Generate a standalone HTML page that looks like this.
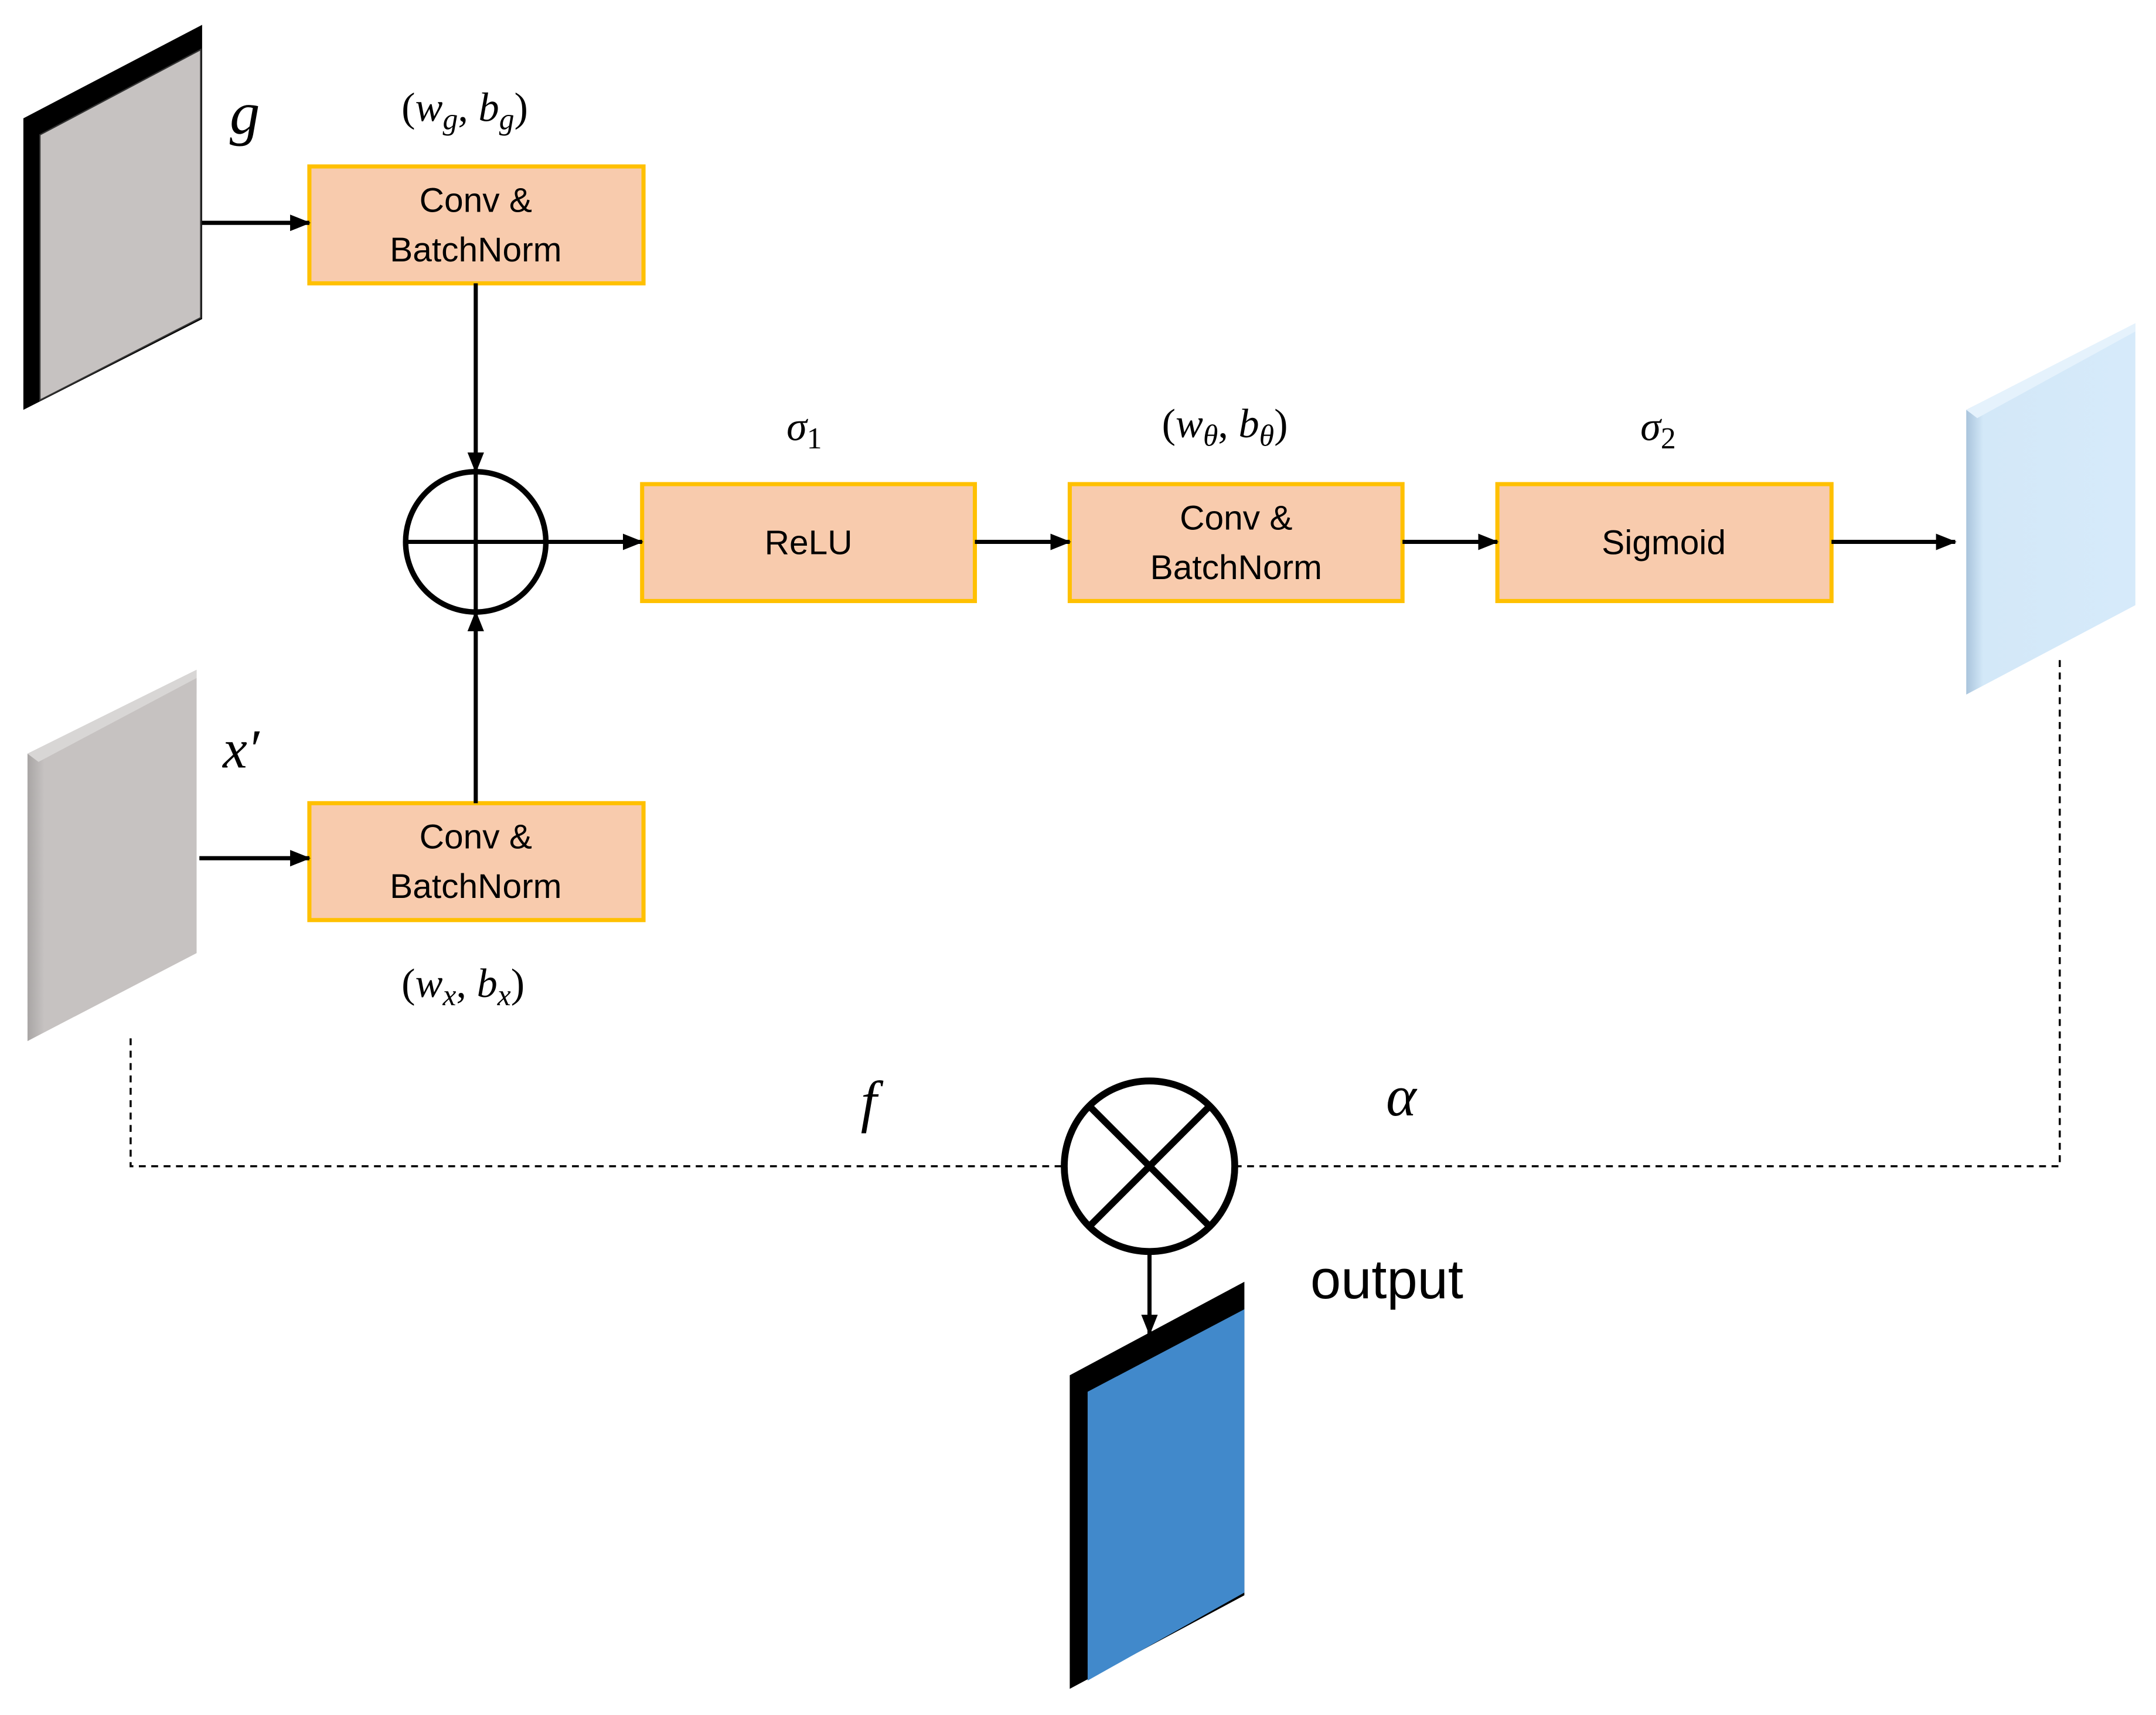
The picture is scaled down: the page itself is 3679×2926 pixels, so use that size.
<!DOCTYPE html>
<html><head><style>html,body{margin:0;padding:0;background:#fff}svg{display:block}</style></head>
<body>
<svg width="3679" height="2926" viewBox="0 0 1568 1247" xmlns="http://www.w3.org/2000/svg">
<defs>
<marker id="a" markerWidth="16" markerHeight="14" refX="14" refY="7" orient="auto" markerUnits="userSpaceOnUse">
<path d="M0,1 L15,7 L0,13 z" fill="#000"/>
</marker>
<linearGradient id="lb" x1="0" x2="1"><stop offset="0" stop-color="#a9c4dc"/><stop offset="0.1" stop-color="#d3e8f8"/><stop offset="1" stop-color="#d6eafa"/></linearGradient>
<linearGradient id="gr" x1="0" x2="1"><stop offset="0" stop-color="#a8a5a4"/><stop offset="0.1" stop-color="#c6c2c1"/><stop offset="1" stop-color="#c6c2c1"/></linearGradient>
</defs>
<g font-family="'Liberation Sans',sans-serif">
<polygon points="17,86 147,18 147,232 17,298" fill="#000"/>
<polygon points="29,98 146,36 146,231 29,291" fill="#c6c2c1" stroke="#333" stroke-width="1"/>
<polygon points="20,548 143,487 143,693 20,757" fill="url(#gr)"/>
<polygon points="20,548 143,487 143,493 28,554" fill="#d8d6d5"/>
<polygon points="1430,298 1553,235 1553,440 1430,505" fill="url(#lb)"/>
<polygon points="1430,298 1553,235 1553,241 1438,304" fill="#e5f2fc"/>
<polygon points="778,1000 905,932 905,1160 778,1228" fill="#000"/>
<polygon points="791,1012 905,952 905,1158 791,1222" fill="#4189cb"/>

<g fill="#f8cbad" stroke="#ffc000" stroke-width="3">
<rect x="225" y="121" width="243" height="85"/>
<rect x="225" y="584" width="243" height="85"/>
<rect x="467" y="352" width="242" height="85"/>
<rect x="778" y="352" width="242" height="85"/>
<rect x="1089" y="352" width="243" height="85"/>
</g>
<g font-size="25" text-anchor="middle" fill="#000">
<text x="346" y="154">Conv &amp;</text><text x="346" y="190">BatchNorm</text>
<text x="346" y="617">Conv &amp;</text><text x="346" y="653">BatchNorm</text>
<text x="588" y="403">ReLU</text>
<text x="899" y="385">Conv &amp;</text><text x="899" y="421">BatchNorm</text>
<text x="1210" y="403">Sigmoid</text>
</g>

<g stroke="#000" stroke-width="3" fill="none">
<line x1="147" y1="162" x2="225" y2="162" marker-end="url(#a)"/>
<line x1="145" y1="624" x2="225" y2="624" marker-end="url(#a)"/>
<line x1="346" y1="206" x2="346" y2="343" marker-end="url(#a)"/>
<line x1="346" y1="584" x2="346" y2="445" marker-end="url(#a)"/>
<line x1="397" y1="394" x2="467" y2="394" marker-end="url(#a)"/>
<line x1="709" y1="394" x2="778" y2="394" marker-end="url(#a)"/>
<line x1="1020" y1="394" x2="1089" y2="394" marker-end="url(#a)"/>
<line x1="1332" y1="394" x2="1422" y2="394" marker-end="url(#a)"/>
<line x1="836" y1="910" x2="836" y2="970" marker-end="url(#a)"/>
<circle cx="346" cy="394" r="51" stroke-width="4"/>
<line x1="295" y1="394" x2="397" y2="394"/>
<line x1="346" y1="343" x2="346" y2="445"/>
<circle cx="836" cy="848" r="62" stroke-width="5"/>
<line x1="792" y1="804" x2="880" y2="892" stroke-width="5"/>
<line x1="880" y1="804" x2="792" y2="892" stroke-width="5"/>
</g>
<g stroke="#000" stroke-width="1.5" fill="none" stroke-dasharray="5,4">
<polyline points="95,755 95,848 774,848"/>
<polyline points="898,848 1498,848 1498,478"/>
</g>

<g font-family="'Liberation Serif',serif" fill="#000">
<text x="167" y="97" font-size="44" font-style="italic">g</text>
<text x="162" y="558" font-size="40" font-style="italic">x′</text>
<text x="626" y="815" font-size="42" font-style="italic">f</text>
<text x="1008" y="811" font-size="42" font-style="italic">α</text>
<text x="292" y="88" font-size="30">(<tspan font-style="italic">w</tspan><tspan font-style="italic" font-size="22" dy="6">g</tspan><tspan dy="-6">, </tspan><tspan font-style="italic">b</tspan><tspan font-style="italic" font-size="22" dy="6">g</tspan><tspan dy="-6">)</tspan></text>
<text x="292" y="725" font-size="30">(<tspan font-style="italic">w</tspan><tspan font-style="italic" font-size="22" dy="6">x</tspan><tspan dy="-6">, </tspan><tspan font-style="italic">b</tspan><tspan font-style="italic" font-size="22" dy="6">x</tspan><tspan dy="-6">)</tspan></text>
<text x="845" y="318" font-size="30">(<tspan font-style="italic">w</tspan><tspan font-style="italic" font-size="22" dy="6">θ</tspan><tspan dy="-6">, </tspan><tspan font-style="italic">b</tspan><tspan font-style="italic" font-size="22" dy="6">θ</tspan><tspan dy="-6">)</tspan></text>
<text x="572" y="320" font-size="30" font-style="italic">σ<tspan font-style="normal" font-size="22" dy="6">1</tspan></text>
<text x="1193" y="320" font-size="30" font-style="italic">σ<tspan font-style="normal" font-size="22" dy="6">2</tspan></text>
</g>
<text x="953" y="944" font-size="40" fill="#000">output</text>
</g>
</svg>
</body></html>
